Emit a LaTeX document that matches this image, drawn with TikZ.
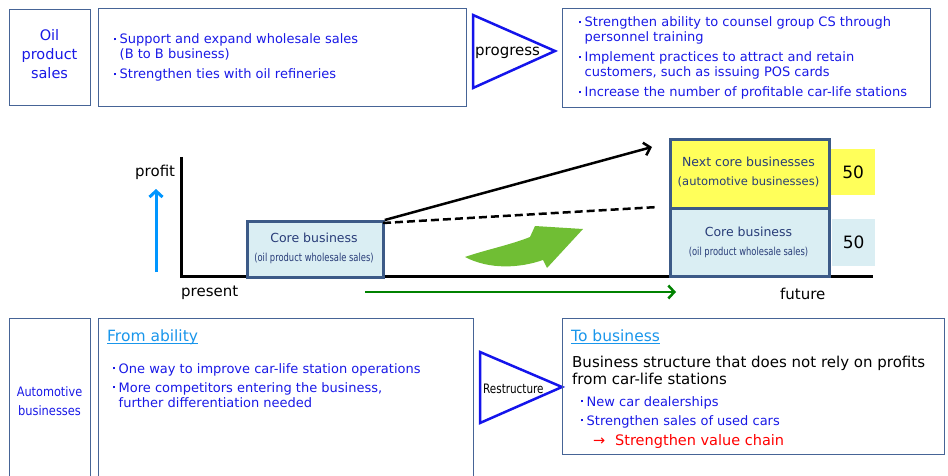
\documentclass[tikz,border=0pt]{standalone}
\usepackage{fontspec}
\setmainfont{DejaVu Sans}
\usepackage{graphicx}
\usetikzlibrary{arrows.meta,calc}
\definecolor{txtblue}{RGB}{25,25,230}
\definecolor{boxline}{RGB}{70,100,150}
\definecolor{chartline}{RGB}{60,90,135}
\definecolor{charttxt}{RGB}{40,60,120}
\definecolor{lblue}{RGB}{218,238,243}
\definecolor{lyellow}{RGB}{255,255,90}
\definecolor{headblue}{RGB}{25,150,235}
\definecolor{arrblue}{RGB}{0,150,255}
\definecolor{dgreen}{RGB}{0,130,0}
\definecolor{lgreen}{RGB}{112,190,52}
\definecolor{triblue}{RGB}{20,20,235}
\definecolor{redtxt}{RGB}{255,0,0}
\newcommand\fs[1]{\fontsize{#1}{#1}\selectfont}
\newcommand\bul{\makebox[6.5pt][l]{\hspace{0.5pt}\raisebox{3.6pt}{\rule{2.2pt}{2.2pt}}}}
\tikzset{
  txt/.style={inner sep=0pt, anchor=base west, font=\fs{13}, text=txtblue},
  ctxt/.style={inner sep=0pt, anchor=base, font=\fs{12.5}, text=charttxt},
  panel/.style={draw=boxline, line width=1.3pt, inner sep=0pt, anchor=north west},
  tri/.style={draw=triblue, line width=2.5pt, line join=miter},
  cbox/.style={draw=chartline, line width=2.8pt, inner sep=0pt, anchor=north west},
  numbox/.style={inner sep=0pt, anchor=north west, font=\fs{17}},
  head/.style={inner sep=0pt, anchor=base west, font=\fs{15.5}, text=headblue},
  barb/.style={-{Straight Barb[length=6pt,width=13pt]}},
}
\begin{document}
\begin{tikzpicture}[x=1pt,y=-1pt]
\useasboundingbox (0,0) rectangle (948,476);
% ---------- top row ----------
\node[panel, minimum width=81pt, minimum height=96pt] (oilbox) at (9,9) {};
\node[inner sep=0pt, anchor=base, font=\fs{14.5}, text=txtblue] (oil1) at (49.5,41) {Oil};
\node[inner sep=0pt, anchor=base, font=\fs{14.5}, text=txtblue] (oil2) at (49.5,59.5) {product};
\node[inner sep=0pt, anchor=base, font=\fs{14.5}, text=txtblue] (oil3) at (49.5,79) {sales};

\node[panel, minimum width=368pt, minimum height=98pt] (tmbox) at (98,8) {};
\node[txt] (tm1) at (113,44) {\bul Support and expand wholesale sales};
\node[txt] (tm2) at (119.5,59) {(B to B business)};
\node[txt] (tm3) at (113,79) {\bul Strengthen ties with oil refineries};

\draw[tri] (473,15) -- (473,88) -- (555,51) -- cycle;
\node[inner sep=0pt, anchor=base west, font=\fs{15}] (prog) at (475,56) {progress};

\node[panel, minimum width=368pt, minimum height=99pt] (trbox) at (562,8) {};
\node[txt] (tr1) at (578,27) {\bul Strengthen ability to counsel group CS through};
\node[txt] (tr2) at (584.5,42) {personnel training};
\node[txt] (tr3) at (578,62) {\bul Implement practices to attract and retain};
\node[txt] (tr4) at (584.5,77) {customers, such as issuing POS cards};
\node[txt] (tr5) at (578,97) {\bul Increase the number of profitable car-life stations};

% ---------- chart ----------
\coordinate (ytop) at (181,157);
\coordinate (orig) at (181,276);
\coordinate (xend) at (873,276);
\draw[line width=3pt] (ytop) -- (orig) -- (xend);
\node[inner sep=0pt, anchor=base west, font=\fs{15}] (profit) at (135,177) {profit};
\node[inner sep=0pt, anchor=base west, font=\fs{15}] (present) at (181,296) {present};
\node[inner sep=0pt, anchor=base west, font=\fs{15}] (future) at (780,299) {future};
\coordinate (bas) at (156,272);
\coordinate (bae) at (156,189);
\draw[arrblue, line width=3pt, barb] (bas) -- (bae);

\node[cbox, fill=lblue, minimum width=136pt, minimum height=56pt] (core) at (246,220) {};
\node[ctxt] (core1) at (314,242) {Core business};
\node[ctxt, font=\fs{11}] (core2) at (314,261) {\scalebox{0.76}[1]{(oil product wholesale sales)}};

\node[cbox, fill=lyellow, minimum width=159pt, minimum height=69pt] (next) at (669,138) {};
\node[cbox, fill=lblue, minimum width=159pt, minimum height=68pt] (corer) at (669,207) {};
\node[ctxt] (next1) at (748.5,167) {Next core businesses};
\node[ctxt, font=\fs{11.5}] (next2) at (748.5,185.5) {(automotive businesses)};
\node[ctxt] (corer1) at (748.5,236) {Core business};
\node[ctxt, font=\fs{11}] (corer2) at (748.5,255) {\scalebox{0.76}[1]{(oil product wholesale sales)}};

\node[numbox, fill=lyellow, minimum width=44pt, minimum height=46pt] (n50a) at (831,149) {50};
\node[numbox, fill=lblue, minimum width=43pt, minimum height=47pt] (n50b) at (832,219) {50};

\coordinate (blackend) at (652,147);
\coordinate (dashstart) at (383,223);
\coordinate (dashend) at (658,207);
\draw[line width=2.5pt, barb] (core.north east) -- (blackend);
\draw[line width=2.5pt, dash pattern=on 8pt off 4pt] (dashstart) -- (dashend);

\coordinate (gs) at (365,292);
\coordinate (ge) at (676,292);
\draw[dgreen, line width=2.5pt, barb] (gs) -- (ge);

\fill[lgreen] (465,257) .. controls (485,250) and (510,245) .. (530,237)
  -- (535,226) -- (583,229) -- (547,268) -- (543,260)
  .. controls (520,268) and (490,270) .. (465,257) -- cycle;

% ---------- bottom row ----------
\node[panel, minimum width=81pt, minimum height=170pt] (autobox) at (9,318) {};
\node[inner sep=0pt, anchor=base, font=\fs{13}, text=txtblue] (auto1) at (49.5,396) {\scalebox{0.87}[1]{Automotive}};
\node[inner sep=0pt, anchor=base, font=\fs{13}, text=txtblue] (auto2) at (49.5,415) {\scalebox{0.88}[1]{businesses}};

\node[panel, minimum width=375pt, minimum height=170pt] (fabox) at (98,318) {};
\node[head] (fromab) at (107,341) {From ability};
\draw[headblue, line width=1pt] ($(fromab.base west)+(0,2)$) -- ($(fromab.base east)+(0,2)$);
\node[txt] (fa1) at (112,373) {\bul One way to improve car-life station operations};
\node[txt] (fa2) at (112,392) {\bul More competitors entering the business,};
\node[txt] (fa3) at (118.5,407) {further differentiation needed};

\draw[tri] (480,352) -- (480,423) -- (562,387) -- cycle;
\node[inner sep=0pt, anchor=base west, font=\fs{13}] (restr) at (483,393) {\scalebox{0.8}[1]{Restructure}};

\node[panel, minimum width=382pt, minimum height=136pt] (tbbox) at (562,318) {};
\node[head] (tobus) at (571,341) {To business};
\draw[headblue, line width=1pt] ($(tobus.base west)+(0,2)$) -- ($(tobus.base east)+(0,2)$);
\node[inner sep=0pt, anchor=base west, font=\fs{15}] (bs1) at (572,367) {Business structure that does not rely on profits};
\node[inner sep=0pt, anchor=base west, font=\fs{15}] (bs2) at (572,384) {from car-life stations};
\node[txt] (tb1) at (580,406) {\bul New car dealerships};
\node[txt] (tb2) at (580,425) {\bul Strengthen sales of used cars};
\node[inner sep=0pt, anchor=base west, font=\fs{14.5}, text=redtxt] (tb3) at (593,445) {\makebox[22pt][l]{→}Strengthen value chain};
\end{tikzpicture}
\end{document}
